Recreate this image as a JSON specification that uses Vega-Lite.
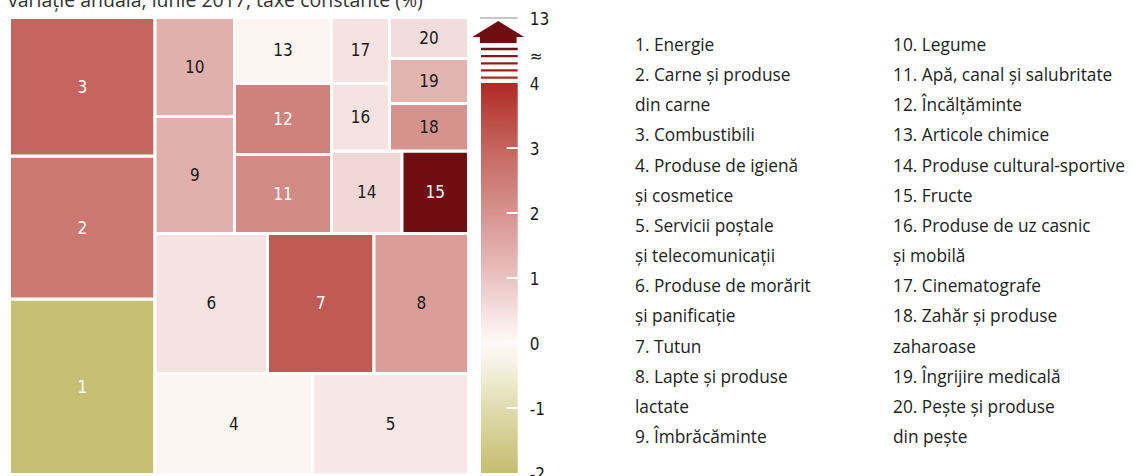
{
  "$schema": "https://vega.github.io/schema/vega-lite/v6.json",
  "width": 1142,
  "height": 476,
  "padding": 0,
  "autosize": {"type": "none"},
  "background": "white",
  "config": {"view": {"stroke": null}},
  "resolve": {"scale": {"x": "independent", "y": "independent"}},
  "layer": [
    {
      "data": {
        "values": [
          {"id": 1, "value": -1.9, "x0": 0, "x1": 31.70, "y0": 61.60, "y1": 100},
          {"id": 2, "value": 2.6, "x0": 0, "x1": 31.70, "y0": 30.31, "y1": 61.60},
          {"id": 3, "value": 3.0, "x0": 0, "x1": 31.70, "y0": 0, "y1": 30.31},
          {"id": 4, "value": 0.1, "x0": 31.70, "x1": 66.01, "y0": 77.90, "y1": 100},
          {"id": 5, "value": 0.35, "x0": 66.01, "x1": 100, "y0": 77.90, "y1": 100},
          {"id": 6, "value": 0.45, "x0": 31.70, "x1": 56.21, "y0": 47.26, "y1": 77.90},
          {"id": 7, "value": 3.2, "x0": 56.21, "x1": 79.41, "y0": 47.26, "y1": 77.90},
          {"id": 8, "value": 1.8, "x0": 79.41, "x1": 100, "y0": 47.26, "y1": 77.90},
          {"id": 9, "value": 1.4, "x0": 31.70, "x1": 49.02, "y0": 21.66, "y1": 47.26},
          {"id": 10, "value": 1.4, "x0": 31.70, "x1": 49.02, "y0": 0, "y1": 21.66},
          {"id": 11, "value": 2.2, "x0": 49.02, "x1": 70.15, "y0": 29.98, "y1": 47.26},
          {"id": 12, "value": 2.4, "x0": 49.02, "x1": 70.15, "y0": 14.44, "y1": 29.98},
          {"id": 13, "value": 0.1, "x0": 49.02, "x1": 70.15, "y0": 0, "y1": 14.44},
          {"id": 14, "value": 0.65, "x0": 70.15, "x1": 85.51, "y0": 29.21, "y1": 47.26},
          {"id": 15, "value": 13, "x0": 85.51, "x1": 100, "y0": 29.21, "y1": 47.26},
          {"id": 16, "value": 0.45, "x0": 70.15, "x1": 82.79, "y0": 14.44, "y1": 29.21},
          {"id": 17, "value": 0.45, "x0": 70.15, "x1": 82.79, "y0": 0, "y1": 14.44},
          {"id": 18, "value": 2.0, "x0": 82.79, "x1": 100, "y0": 18.82, "y1": 29.21},
          {"id": 19, "value": 1.3, "x0": 82.79, "x1": 100, "y0": 8.97, "y1": 18.82},
          {"id": 20, "value": 0.55, "x0": 82.79, "x1": 100, "y0": 0, "y1": 8.97}
        ]
      },
      "layer": [
        {
          "mark": {"type": "rect", "stroke": "white", "strokeWidth": 3},
          "encoding": {
            "x": {"field": "x0", "type": "quantitative", "scale": {"domain": [0, 100], "range": [9.5, 468.5]}, "axis": null},
            "x2": {"field": "x1"},
            "y": {"field": "y0", "type": "quantitative", "scale": {"domain": [0, 100], "range": [17.5, 474.5]}, "axis": null},
            "y2": {"field": "y1"},
            "color": {
              "field": "value", "type": "quantitative", "legend": null,
              "scale": {"type": "linear", "interpolate": "rgb", "domain": [-2, -1, -0.5, 0, 0.5, 1, 2, 3, 4, 13],
                "range": ["#c3bd6e", "#e0dcae", "#f0edd5", "#fffaf7", "#f4dfdf", "#e9c3c0", "#d6938e", "#c4665e", "#b02a25", "#6e0e10"]}
            }
          }
        },
        {
          "transform": [
            {"calculate": "(datum.x0 + datum.x1) / 2", "as": "xc"},
            {"calculate": "(datum.y0 + datum.y1) / 2", "as": "yc"}
          ],
          "mark": {"type": "text", "font": "Liberation Sans Narrow, DejaVu Sans Condensed, Roboto, sans-serif", "fontSize": 17, "baseline": "middle", "align": "center", "dy": 1},
          "encoding": {
            "x": {"field": "xc", "type": "quantitative", "scale": {"domain": [0, 100], "range": [9.5, 468.5]}, "axis": null},
            "y": {"field": "yc", "type": "quantitative", "scale": {"domain": [0, 100], "range": [17.5, 474.5]}, "axis": null},
            "text": {"field": "id", "type": "nominal"},
            "color": {"condition": {"test": "datum.value > 2.1 || datum.value < -1", "value": "#ffffff"}, "value": "#1a1a1a"}
          }
        },
        {
          "data": {"values": [{"t": "variație anuală, iunie 2017, taxe constante (%)"}]},
          "mark": {"type": "text", "align": "left", "baseline": "alphabetic", "font": "Open Sans", "fontSize": 19.5, "color": "#333333"},
          "encoding": {
            "x": {"datum": -0.33, "type": "quantitative", "scale": {"domain": [0, 100], "range": [9.5, 468.5]}, "axis": null},
            "y": {"datum": -2.4, "type": "quantitative", "scale": {"domain": [0, 100], "range": [17.5, 474.5]}, "axis": null},
            "text": {"field": "t", "type": "nominal"}
          }
        }
      ]
    },
    {
      "layer": [
        {
          "data": {"values": [{"lo": -2, "hi": 4}]},
          "mark": {
            "type": "rect",
            "color": {
              "gradient": "linear", "x1": 0, "y1": 1, "x2": 0, "y2": 0,
              "stops": [
                {"offset": 0, "color": "#c3bd6e"},
                {"offset": 0.1667, "color": "#e0dcae"},
                {"offset": 0.25, "color": "#f0edd5"},
                {"offset": 0.3333, "color": "#fffaf7"},
                {"offset": 0.4167, "color": "#f4dfdf"},
                {"offset": 0.5, "color": "#e9c3c0"},
                {"offset": 0.6667, "color": "#d6938e"},
                {"offset": 0.8333, "color": "#c4665e"},
                {"offset": 1, "color": "#b02a25"}
              ]
            }
          },
          "encoding": {
            "x": {"datum": 0, "type": "quantitative", "scale": {"domain": [0, 1], "range": [481, 517.7]}, "axis": null},
            "x2": {"datum": 1},
            "y": {"field": "lo", "type": "quantitative", "scale": {"domain": [-2, 5], "range": [473, 18]}, "axis": null},
            "y2": {"field": "hi"}
          }
        },
        {
          "data": {"values": [
            {"pos": 4.082, "level": 4.6},
            {"pos": 4.195, "level": 6.5},
            {"pos": 4.303, "level": 8.3},
            {"pos": 4.415, "level": 10.2},
            {"pos": 4.523, "level": 12}
          ]},
          "mark": {"type": "rule", "strokeWidth": 2.3},
          "encoding": {
            "x": {"datum": 0, "type": "quantitative", "scale": {"domain": [0, 1], "range": [481, 517.7]}, "axis": null},
            "x2": {"datum": 1},
            "y": {"field": "pos", "type": "quantitative", "scale": {"domain": [-2, 5], "range": [473, 18]}, "axis": null},
            "color": {
              "field": "level", "type": "quantitative", "legend": null,
              "scale": {"type": "linear", "interpolate": "rgb", "domain": [-2, -1, -0.5, 0, 0.5, 1, 2, 3, 4, 13],
                "range": ["#c3bd6e", "#e0dcae", "#f0edd5", "#fffaf7", "#f4dfdf", "#e9c3c0", "#d6938e", "#c4665e", "#b02a25", "#6e0e10"]}
            }
          }
        },
        {
          "data": {"values": [{"v": -1}, {"v": 0}, {"v": 1}, {"v": 2}, {"v": 3}]},
          "mark": {"type": "rule", "color": "white", "strokeWidth": 2},
          "encoding": {
            "x": {"datum": 0.7, "type": "quantitative", "scale": {"domain": [0, 1], "range": [481, 517.7]}, "axis": null},
            "x2": {"datum": 1},
            "y": {"field": "v", "type": "quantitative", "scale": {"domain": [-2, 5], "range": [473, 18]}, "axis": null}
          }
        },
        {
          "data": {"values": [{"pos": 5.0}]},
          "mark": {"type": "rule", "color": "#8c8c8c", "strokeWidth": 1},
          "encoding": {
            "x": {"datum": -0.03, "type": "quantitative", "scale": {"domain": [0, 1], "range": [481, 517.7]}, "axis": null},
            "x2": {"datum": 1},
            "y": {"field": "pos", "type": "quantitative", "scale": {"domain": [-2, 5], "range": [473, 18]}, "axis": null}
          }
        },
        {
          "data": {"values": [{"pos": 4.785, "level": 13}]},
          "mark": {"type": "point", "filled": true, "opacity": 1, "strokeWidth": 0, "size": 2704,
            "shape": "M0,-0.423L1,0.192L0.706,0.192L0.706,0.423L-0.706,0.423L-0.706,0.192L-1,0.192Z"},
          "encoding": {
            "x": {"datum": 0.47, "type": "quantitative", "scale": {"domain": [0, 1], "range": [481, 517.7]}, "axis": null},
            "y": {"field": "pos", "type": "quantitative", "scale": {"domain": [-2, 5], "range": [473, 18]}, "axis": null},
            "color": {
              "field": "level", "type": "quantitative", "legend": null,
              "scale": {"type": "linear", "interpolate": "rgb", "domain": [-2, -1, -0.5, 0, 0.5, 1, 2, 3, 4, 13],
                "range": ["#c3bd6e", "#e0dcae", "#f0edd5", "#fffaf7", "#f4dfdf", "#e9c3c0", "#d6938e", "#c4665e", "#b02a25", "#6e0e10"]}
            }
          }
        },
        {
          "data": {"values": [
            {"pos": -2, "label": "-2"},
            {"pos": -1, "label": "-1"},
            {"pos": 0, "label": "0"},
            {"pos": 1, "label": "1"},
            {"pos": 2, "label": "2"},
            {"pos": 3, "label": "3"},
            {"pos": 4, "label": "4"},
            {"pos": 4.43, "label": "≈"},
            {"pos": 5, "label": "13"}
          ]},
          "mark": {"type": "text", "align": "left", "baseline": "middle", "dy": 1.5, "font": "Liberation Sans Narrow, DejaVu Sans Condensed, Roboto, sans-serif", "fontSize": 17, "color": "#1a1a1a"},
          "encoding": {
            "x": {"datum": 1.33, "type": "quantitative", "scale": {"domain": [0, 1], "range": [481, 517.7]}, "axis": null},
            "y": {"field": "pos", "type": "quantitative", "scale": {"domain": [-2, 5], "range": [473, 18]}, "axis": null},
            "text": {"field": "label", "type": "nominal"}
          }
        }
      ]
    },
    {
      "data": {"values": [
        {"col": 0, "row": 0, "text": "1. Energie"},
        {"col": 0, "row": 1, "text": "2. Carne și produse"},
        {"col": 0, "row": 2, "text": "din carne"},
        {"col": 0, "row": 3, "text": "3. Combustibili"},
        {"col": 0, "row": 4, "text": "4. Produse de igienă"},
        {"col": 0, "row": 5, "text": "și cosmetice"},
        {"col": 0, "row": 6, "text": "5. Servicii poștale"},
        {"col": 0, "row": 7, "text": "și telecomunicații"},
        {"col": 0, "row": 8, "text": "6. Produse de morărit"},
        {"col": 0, "row": 9, "text": "și panificație"},
        {"col": 0, "row": 10, "text": "7. Tutun"},
        {"col": 0, "row": 11, "text": "8. Lapte și produse"},
        {"col": 0, "row": 12, "text": "lactate"},
        {"col": 0, "row": 13, "text": "9. Îmbrăcăminte"},
        {"col": 1, "row": 0, "text": "10. Legume"},
        {"col": 1, "row": 1, "text": "11. Apă, canal și salubritate"},
        {"col": 1, "row": 2, "text": "12. Încălțăminte"},
        {"col": 1, "row": 3, "text": "13. Articole chimice"},
        {"col": 1, "row": 4, "text": "14. Produse cultural-sportive"},
        {"col": 1, "row": 5, "text": "15. Fructe"},
        {"col": 1, "row": 6, "text": "16. Produse de uz casnic"},
        {"col": 1, "row": 7, "text": "și mobilă"},
        {"col": 1, "row": 8, "text": "17. Cinematografe"},
        {"col": 1, "row": 9, "text": "18. Zahăr și produse"},
        {"col": 1, "row": 10, "text": "zaharoase"},
        {"col": 1, "row": 11, "text": "19. Îngrijire medicală"},
        {"col": 1, "row": 12, "text": "20. Pește și produse"},
        {"col": 1, "row": 13, "text": "din pește"}
      ]},
      "mark": {"type": "text", "align": "left", "baseline": "middle", "font": "Open Sans", "fontSize": 17.3, "color": "#222222"},
      "encoding": {
        "x": {"field": "col", "type": "quantitative", "scale": {"domain": [0, 1], "range": [635, 893]}, "axis": null},
        "y": {"field": "row", "type": "quantitative", "scale": {"domain": [0, 13], "range": [46, 438]}, "axis": null},
        "text": {"field": "text", "type": "nominal"}
      }
    }
  ]
}
